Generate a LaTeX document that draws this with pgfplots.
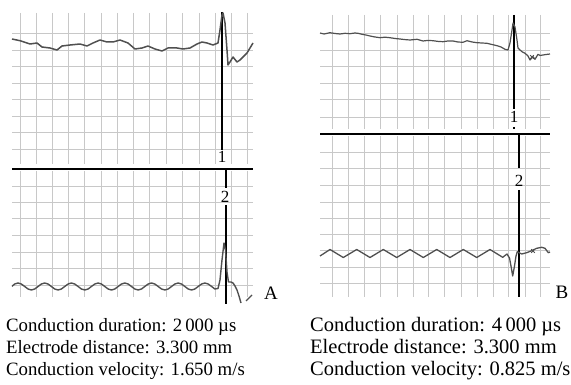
\documentclass[border=0pt]{standalone}
\usepackage{fontspec}
\setmainfont{Liberation Serif}
\usepackage{pgfplots}
\pgfplotsset{compat=1.18}
\definecolor{gridc}{RGB}{200,200,200}
\definecolor{trc}{RGB}{80,80,80}
\begin{document}
\begin{tikzpicture}
\path[use as bounding box] (0,0) rectangle (571pt,385pt);
\begin{axis}[at={(0,0)}, anchor=south west, scale only axis,
  width=571pt, height=385pt, xmin=0, xmax=571, ymin=0, ymax=385,
  y dir=reverse, hide axis, clip=false, unbounded coords=jump,
  every axis plot/.append style={line join=round}]
% ---------- grid panel A ----------
\pgfplotsinvokeforeach{20,36,52,68,84,101,117,133,149,166,182,199,215,231,247}{
  \addplot[gridc, line width=0.9pt] coordinates {(#1,13)(#1,164)};
  \addplot[gridc, line width=0.9pt] coordinates {(#1,171)(#1,297)};
}
\pgfplotsinvokeforeach{33,50,66,83,99,116,132,149,186,202,218,235,252,268,285}{
  \addplot[gridc, line width=0.9pt] coordinates {(12,#1)(253,#1)};
}
% ---------- grid panel B ----------
\pgfplotsinvokeforeach{332,348,364,380,397,413,428,444,461,477,493,508,525,540}{
  \addplot[gridc, line width=0.9pt] coordinates {(#1,15)(#1,129)};
  \addplot[gridc, line width=0.9pt] coordinates {(#1,136)(#1,297)};
}
\pgfplotsinvokeforeach{33,50,66,83,99,117,152,168,185,202,218,234,250,267,283}{
  \addplot[gridc, line width=0.9pt] coordinates {(320,#1)(550,#1)};
}
% ---------- separators ----------
\addplot[black, line width=2.6pt] coordinates {(12,169)(253,169)};
\addplot[black, line width=2.6pt] coordinates {(320,134)(550,134)};
% ---------- markers A ----------
\addplot[black, line width=1.2pt] coordinates {(222,12)(222,150)};
\addplot[black, line width=1.2pt] coordinates {(226,169)(226,188)};
\addplot[black, line width=1.2pt] coordinates {(226,205)(226,304)};
% ---------- markers B ----------
\addplot[black, line width=1.2pt] coordinates {(514,15)(514,109)};
\addplot[black, line width=1.2pt] coordinates {(514,127)(514,129)};
\addplot[black, line width=2pt] coordinates {(519,134)(519,168)};
\addplot[black, line width=2pt] coordinates {(519,190)(519,297)};
% ---------- trace A upper ----------
\addplot[trc, line width=1.5pt] coordinates {
(12,39)(20,40.7)(30,44)(37,43)(42,47)(50,48)(57,50)(62,46)(70,45)(80,44)(87,46)
(93,43)(100,40)(107,42)(113,42)(120,40)(128,43)(135,49)(142,48)(148,46)(155,49)
(162,51)(168,48)(177,48)(183,49)(190,48)(197,44)(202,42)(207,43)(213,45)(218,43)
(220,30)(222,15)(223,13)(225,23)(227,50)(228,65)(230,62)(233,57)(237,62)(240,60)
(247,53)(253,43)};
% ---------- trace A lower ----------
\addplot[trc, line width=1.4pt] coordinates {
(12,286.3)(14.7,284)
(18,283)(21.3,284)(24.7,286.5)(28,289)(31.4,290)(34.7,289)(38,286.5)(41.4,284)
(44.7,283)(48,284)(51.4,286.5)(54.7,289)(58.1,290)(61.4,289)(64.7,286.5)(68.1,284)
(71.4,283)(74.7,284)(78.1,286.5)(81.4,289)(84.8,290)(88.1,289)(91.4,286.5)(94.8,284)
(98.1,283)(101.4,284)(104.8,286.5)(108.1,289)(111.5,290)(114.8,289)(118.1,286.5)(121.5,284)
(124.8,283)(128.1,284)(131.5,286.5)(134.8,289)(138.2,290)(141.5,289)(144.8,286.5)(148.2,284)
(151.5,283)(154.8,284)(158.2,286.5)(161.5,289)(164.9,290)(168.2,289)(171.5,286.5)(174.9,284)
(178.2,283)(181.5,284)(184.9,286.5)(188.2,289)(191.6,290)(194.9,289)(198.2,286.5)(201.6,284)
(204.9,283)(208.2,284)(211.6,286.5)(214.9,289)(218,288.5)(220,280)(222,260)(224,243)
(225.5,250)(227,272)(228.5,282)(231,282)(233,283)(235,286)(237,290)(239,296)(241,303)};
\addplot[trc, line width=1.2pt] coordinates {(246,301)(249,298)(252,295)};
% ---------- trace B upper ----------
\addplot[trc, line width=1.2pt] coordinates {
(320,33)(324,34)(330,32.7)(335,33.5)(340,34)(345,33.3)(350,33.7)(355,33)(358,33.3)(362,34.3)
(366,35)(370,36)(375,37)(380,37.7)(385,37.2)(390,37.7)(395,38.5)(400,39)(405,39.6)
(410,40)(417,39.3)(423,41)(428,40.4)(433,40.7)(438,41.4)(443,41.7)(448,41)(453,41)
(458,42)(463,42.3)(467,40.7)(472,42)(477,42.7)(482,43)(487,43.3)(492,44.5)(497,45.7)
(501,47)(505,49.3)(508,50)(510,43)(512,30)(513,23)(515,27)(517,40)(518,48)(520,50)
(522,51.7)(525,53.3)(527,55)(528,56)(530,60)(533,56.7)(535,59.3)(538,54.3)(540,55.5)
(543,55)(546,54.5)(550,54)};
\addplot[trc, only marks, mark=x, mark size=2.5pt, line width=0.8pt] coordinates {(532,57)(533,251)};
% ---------- trace B lower ----------
\addplot[trc, line width=1.3pt] coordinates {
(320,256)(330,249.5)(343.3,257.5)(356.7,249.5)(370,257.5)(383.3,249.5)(396.7,257.5)
(410,249.5)(423.3,257.5)(436.7,249.5)(450,257.5)(463.3,249.5)(476.7,257.5)(490,249.5)
(502.7,257.3)(507,254)(509.5,258)(511,266)(512.7,276)(514.5,266)(516,256)(517.3,251.7)
(521.7,254)(526.7,252.7)(531.7,250.7)(536.7,248.3)(541.7,247.3)(545,248.3)(548.3,252.7)(550,252)};
% ---------- labels ----------
\node[font=\fontsize{17}{17}\selectfont, inner sep=0] at (axis cs:222,157) {1};
\node[font=\fontsize{17}{17}\selectfont, inner sep=0] at (axis cs:225,197) {2};
\node[font=\fontsize{17}{17}\selectfont, inner sep=0] at (axis cs:514,117) {1};
\node[font=\fontsize{17}{17}\selectfont, inner sep=0] at (axis cs:519,181) {2};
\node[font=\fontsize{19}{19}\selectfont, inner sep=0] at (axis cs:271,293) {A};
\node[font=\fontsize{19}{19}\selectfont, inner sep=0] at (axis cs:562,292) {B};
% ---------- text ----------
\node[anchor=base west, inner sep=0, font=\fontsize{18.8}{21}\selectfont] at (axis cs:6,331) {Conduction duration: 2\,000 µs};
\node[anchor=base west, inner sep=0, font=\fontsize{18.8}{21}\selectfont] at (axis cs:6,353) {Electrode distance: 3.300 mm};
\node[anchor=base west, inner sep=0, font=\fontsize{18.8}{21}\selectfont] at (axis cs:6,375) {Conduction velocity: 1.650 m/s};
\node[anchor=base west, inner sep=0, font=\fontsize{20.5}{23}\selectfont] at (axis cs:310,331) {Conduction duration: 4\,000 µs};
\node[anchor=base west, inner sep=0, font=\fontsize{20.5}{23}\selectfont] at (axis cs:310,353) {Electrode distance: 3.300 mm};
\node[anchor=base west, inner sep=0, font=\fontsize{20.5}{23}\selectfont] at (axis cs:310,375) {Conduction velocity: 0.825 m/s};
\end{axis}
\end{tikzpicture}
\end{document}
